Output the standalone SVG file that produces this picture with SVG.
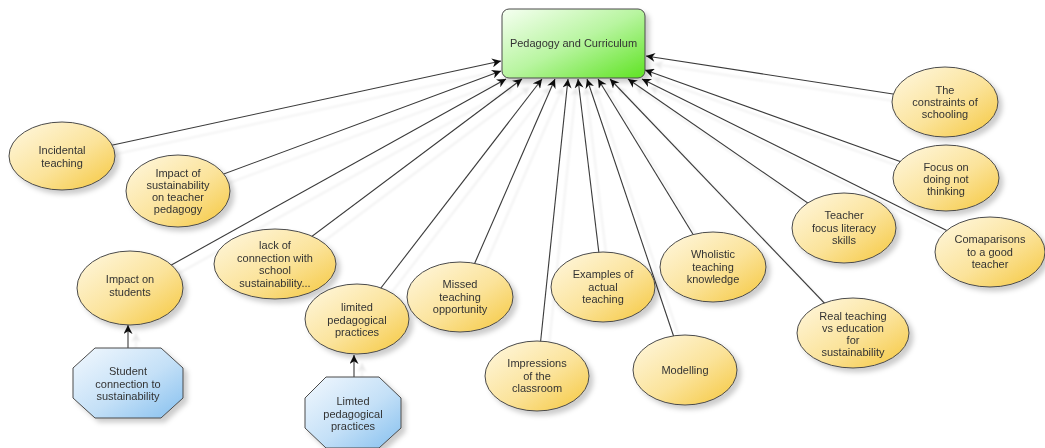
<svg xmlns="http://www.w3.org/2000/svg" width="1045" height="448" viewBox="0 0 1045 448">
<style>
.t{font-family:"Liberation Sans",Arial,sans-serif;font-size:11px;fill:#333;text-anchor:middle}
.e{fill:url(#gy);stroke:#4a4a4a;stroke-width:1}
.o{fill:url(#gb);stroke:#4a4a4a;stroke-width:1}
.c{stroke:#3a3a3a;stroke-width:1.1;fill:none;marker-end:url(#ah)}
</style>
<defs>
<linearGradient id="gy" x1="0" y1="0" x2="1" y2="1">
<stop offset="0" stop-color="#fff8e2"/><stop offset="0.55" stop-color="#fbe39a"/><stop offset="1" stop-color="#f5c73c"/>
</linearGradient>
<linearGradient id="gb" x1="0" y1="0" x2="1" y2="1">
<stop offset="0" stop-color="#f2f8fe"/><stop offset="0.55" stop-color="#c4e0f7"/><stop offset="1" stop-color="#86c0ef"/>
</linearGradient>
<linearGradient id="gg" x1="0" y1="0" x2="1" y2="1">
<stop offset="0" stop-color="#f6fff2"/><stop offset="0.5" stop-color="#b8f5a0"/><stop offset="1" stop-color="#5ee322"/>
</linearGradient>
<marker id="ah" viewBox="0 0 10 10" refX="10" refY="5" markerWidth="10" markerHeight="9" markerUnits="userSpaceOnUse" orient="auto">
<path d="M0,0 L10,5 L0,10 L3,5 z" fill="#111"/>
</marker>
<filter id="ls" filterUnits="userSpaceOnUse" x="0" y="0" width="1045" height="448">
<feDropShadow dx="8" dy="8" stdDeviation="0.8" flood-color="#000" flood-opacity="0.09"/>
</filter>
<filter id="ns" x="-10%" y="-10%" width="130%" height="130%">
<feDropShadow dx="4" dy="4" stdDeviation="2.5" flood-color="#000" flood-opacity="0.2"/>
</filter>
</defs>

<g id="connectors" filter="url(#ls)">
<line class="c" x1="62" y1="156" x2="501" y2="61"/>
<line class="c" x1="178" y1="191" x2="501" y2="71"/>
<line class="c" x1="130" y1="288" x2="506" y2="79"/>
<line class="c" x1="275" y1="264" x2="522" y2="79"/>
<line class="c" x1="357" y1="319" x2="542" y2="79"/>
<line class="c" x1="460" y1="297" x2="555" y2="79"/>
<line class="c" x1="537" y1="376" x2="568" y2="79"/>
<line class="c" x1="603" y1="287" x2="578" y2="79"/>
<line class="c" x1="685" y1="370" x2="587" y2="79"/>
<line class="c" x1="713" y1="267" x2="598" y2="79"/>
<line class="c" x1="853" y1="333" x2="610" y2="79"/>
<line class="c" x1="844" y1="228" x2="628" y2="79"/>
<line class="c" x1="990" y1="252" x2="642" y2="79"/>
<line class="c" x1="946" y1="178" x2="645" y2="70"/>
<line class="c" x1="945" y1="102" x2="646" y2="56"/>
<line class="c" x1="128" y1="348" x2="128" y2="325"/>
<line class="c" x1="354" y1="377" x2="354" y2="355"/>
</g>

<g id="center" filter="url(#ns)">
<rect x="502" y="9" width="143" height="69" rx="7" fill="url(#gg)" stroke="#4a4a4a"/>
<text class="t" x="573.5" y="47">Pedagogy and Curriculum</text>
</g>

<g id="incidental" filter="url(#ns)">
<ellipse class="e" cx="62" cy="156" rx="53" ry="34"/>
<text class="t" x="62" y="154">Incidental<tspan x="62" dy="12.5">teaching</tspan></text>
</g>
<g id="impact-pedagogy" filter="url(#ns)">
<ellipse class="e" cx="178" cy="191" rx="52" ry="36"/>
<text class="t" x="178" y="177">Impact of<tspan x="178" dy="12">sustainability</tspan><tspan x="178" dy="12">on teacher</tspan><tspan x="178" dy="12">pedagogy</tspan></text>
</g>
<g id="impact-students" filter="url(#ns)">
<ellipse class="e" cx="130" cy="288" rx="53" ry="37"/>
<text class="t" x="130" y="283">Impact on<tspan x="130" dy="12.5">students</tspan></text>
</g>
<g id="lack-connection" filter="url(#ns)">
<ellipse class="e" cx="275" cy="264" rx="61" ry="35"/>
<text class="t" x="275" y="249">lack of<tspan x="275" dy="12.5">connection with</tspan><tspan x="275" dy="12.5">school</tspan><tspan x="275" dy="12.5">sustainability...</tspan></text>
</g>
<g id="limited-practices" filter="url(#ns)">
<ellipse class="e" cx="357" cy="319" rx="52" ry="35"/>
<text class="t" x="357" y="311">limited<tspan x="357" dy="12.5">pedagogical</tspan><tspan x="357" dy="12.5">practices</tspan></text>
</g>
<g id="missed" filter="url(#ns)">
<ellipse class="e" cx="460" cy="297" rx="53" ry="35"/>
<text class="t" x="460" y="288">Missed<tspan x="460" dy="12.5">teaching</tspan><tspan x="460" dy="12.5">opportunity</tspan></text>
</g>
<g id="impressions" filter="url(#ns)">
<ellipse class="e" cx="537" cy="376" rx="52" ry="35"/>
<text class="t" x="537" y="367">Impressions<tspan x="537" dy="12.5">of the</tspan><tspan x="537" dy="12.5">classroom</tspan></text>
</g>
<g id="examples" filter="url(#ns)">
<ellipse class="e" cx="603" cy="287" rx="52" ry="35"/>
<text class="t" x="603" y="278">Examples of<tspan x="603" dy="12.5">actual</tspan><tspan x="603" dy="12.5">teaching</tspan></text>
</g>
<g id="modelling" filter="url(#ns)">
<ellipse class="e" cx="685" cy="370" rx="52" ry="35"/>
<text class="t" x="685" y="374">Modelling</text>
</g>
<g id="wholistic" filter="url(#ns)">
<ellipse class="e" cx="713" cy="267" rx="53" ry="35"/>
<text class="t" x="713" y="258">Wholistic<tspan x="713" dy="12.5">teaching</tspan><tspan x="713" dy="12.5">knowledge</tspan></text>
</g>
<g id="teacher-focus" filter="url(#ns)">
<ellipse class="e" cx="844" cy="228" rx="52" ry="35"/>
<text class="t" x="844" y="219">Teacher<tspan x="844" dy="12.5">focus literacy</tspan><tspan x="844" dy="12.5">skills</tspan></text>
</g>
<g id="real-teaching" filter="url(#ns)">
<ellipse class="e" cx="853" cy="333" rx="56" ry="35"/>
<text class="t" x="853" y="320">Real teaching<tspan x="853" dy="12">vs education</tspan><tspan x="853" dy="12">for</tspan><tspan x="853" dy="12">sustainability</tspan></text>
</g>
<g id="comparisons" filter="url(#ns)">
<ellipse class="e" cx="990" cy="252" rx="55" ry="35"/>
<text class="t" x="990" y="243">Comaparisons<tspan x="990" dy="12.5">to a good</tspan><tspan x="990" dy="12.5">teacher</tspan></text>
</g>
<g id="focus-doing" filter="url(#ns)">
<ellipse class="e" cx="946" cy="178" rx="53" ry="33"/>
<text class="t" x="946" y="171">Focus on<tspan x="946" dy="12">doing not</tspan><tspan x="946" dy="12">thinking</tspan></text>
</g>
<g id="constraints" filter="url(#ns)">
<ellipse class="e" cx="945" cy="102" rx="53" ry="35"/>
<text class="t" x="945" y="94">The<tspan x="945" dy="12">constraints of</tspan><tspan x="945" dy="12">schooling</tspan></text>
</g>

<g id="student-connection" filter="url(#ns)">
<polygon class="o" points="95,348 161,348 183,368 183,398 161,418 95,418 73,398 73,368"/>
<text class="t" x="128" y="375">Student<tspan x="128" dy="12.5">connection to</tspan><tspan x="128" dy="12.5">sustainability</tspan></text>
</g>
<g id="limited-octagon" filter="url(#ns)">
<polygon class="o" points="326,377 379,377 401,398 401,428 379,448 326,448 305,428 305,398"/>
<text class="t" x="353" y="405">Limted<tspan x="353" dy="12.5">pedagogical</tspan><tspan x="353" dy="12.5">practices</tspan></text>
</g>
</svg>
